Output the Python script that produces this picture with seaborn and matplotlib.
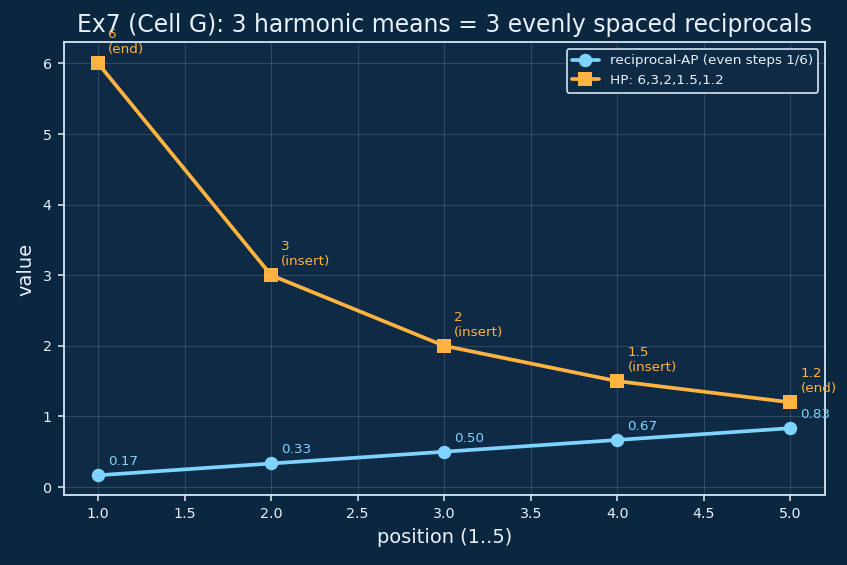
import matplotlib
matplotlib.use("Agg")
import matplotlib.pyplot as plt
import seaborn as sns
import pandas as pd

positions = [1, 2, 3, 4, 5]
recip_ap = [1/6, 2/6, 3/6, 4/6, 5/6]
hp = [6, 3, 2, 1.5, 1.2]
hp_labels = ["6\n(end)", "3\n(insert)", "2\n(insert)", "1.5\n(insert)", "1.2\n(end)"]
ap_labels = ["0.17", "0.33", "0.50", "0.67", "0.83"]

BG = "#0b2740"
AX = "#0e2a45"
FG = "#e8f1fa"
BLUE = "#7fd3ff"
ORANGE = "#ffb340"

sns.set_theme(style="darkgrid")
plt.rcParams["font.family"] = ["DejaVu Sans"]

fig, ax = plt.subplots(figsize=(7.0, 4.67), dpi=121)
fig.patch.set_facecolor(BG)
ax.set_facecolor(AX)

df = pd.DataFrame({"pos": positions, "ap": recip_ap, "hp": hp})
sns.lineplot(data=df, x="pos", y="ap", ax=ax, color=BLUE, lw=2.2, marker="o",
             markersize=8, markeredgewidth=0, label="reciprocal-AP (even steps 1/6)")
sns.lineplot(data=df, x="pos", y="hp", ax=ax, color=ORANGE, lw=2.2, marker="s",
             markersize=8, markeredgewidth=0, label="HP: 6,3,2,1.5,1.2")

for x, y, t in zip(positions, hp, hp_labels):
    ax.annotate(t, (x, y), xytext=(6, 6), textcoords="offset points",
                color=ORANGE, fontsize=8, zorder=5)
for x, y, t in zip(positions, recip_ap, ap_labels):
    ax.annotate(t, (x, y), xytext=(6, 6), textcoords="offset points",
                color=BLUE, fontsize=8, zorder=5)

ax.grid(True, color="#ffffff", alpha=0.15, lw=0.6)
for s in ax.spines.values():
    s.set_visible(True)
    s.set_color("#cfe3f5")
    s.set_linewidth(1.1)
ax.tick_params(colors=FG, labelsize=8.5, length=3.5, width=0.9, direction="out",
               bottom=True, left=True)
ax.set_xlabel("position (1..5)", color=FG, fontsize=11.5)
ax.set_ylabel("value", color=FG, fontsize=11.5)
ax.set_title("Ex7 (Cell G): 3 harmonic means = 3 evenly spaced reciprocals",
             color=FG, fontsize=14)
ax.set_xlim(0.8, 5.2)
ax.set_ylim(-0.12, 6.3)
ax.set_xticks([1.0, 1.5, 2.0, 2.5, 3.0, 3.5, 4.0, 4.5, 5.0])

leg = ax.legend(loc="upper right", fontsize=8, facecolor=AX, edgecolor="#cfe3f5",
                framealpha=1.0)
for t in leg.get_texts():
    t.set_color(FG)

fig.subplots_adjust(left=0.075, right=0.974, top=0.925, bottom=0.123)
fig.savefig("out.png", dpi=121, facecolor=BG)
